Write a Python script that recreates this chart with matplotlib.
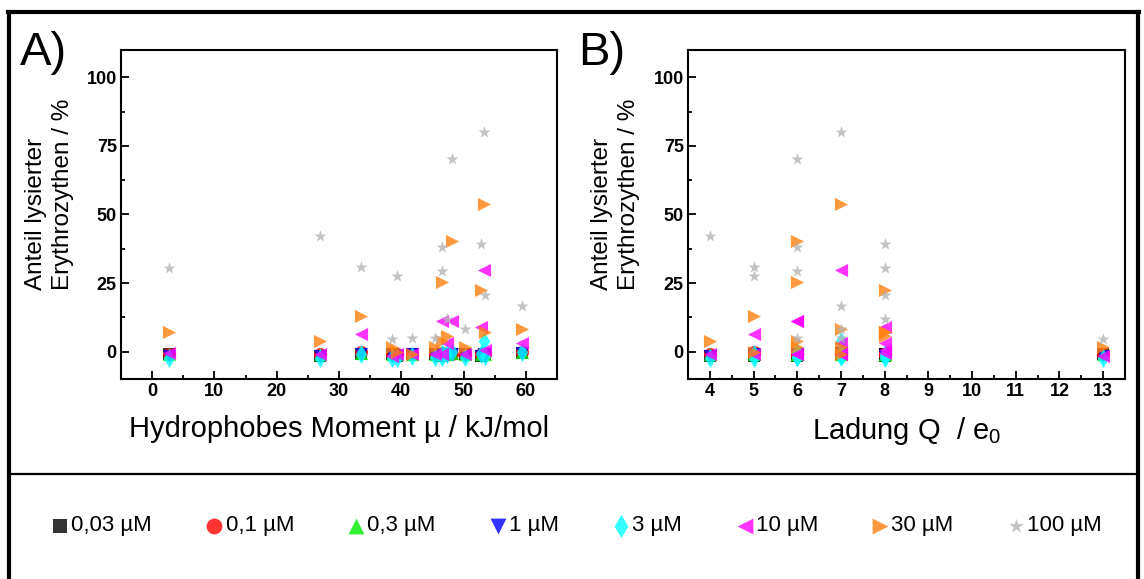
import matplotlib
matplotlib.use("Agg")
import matplotlib.pyplot as plt
from matplotlib.lines import Line2D
from matplotlib.ticker import MultipleLocator

plt.rcParams['font.family'] = ['Liberation Sans', 'DejaVu Sans']
plt.rcParams['mathtext.fontset'] = 'custom'
plt.rcParams['mathtext.rm'] = 'Liberation Sans'
plt.rcParams['mathtext.it'] = 'Liberation Sans'

# ---- data: one entry per peptide ----
hydrophobic_moment = [2.7, 26.9, 33.5, 38.5, 39.3, 41.7, 45.4, 46.6, 46.6, 47.4, 48.2, 50.2, 52.8, 53.2, 53.5, 59.4]
charge_q = [8, 4, 5, 13, 5, 7, 6, 6, 6, 8, 6, 7, 8, 7, 8, 7]

lysis_0_03 = [-1, -1.5, -1, -1, -1.5, -1, -1, -1, -1.5, -1, -1, -1, -1.5, -1, -1, -0.5]
lysis_0_1 = [-1, -1, 0, -1, -1, -1, -1, -0.5, -1, -1, -1, -1, -1, -0.5, -1, 0]
lysis_0_3 = [-1, -1, -0.5, -1, -1, -1, -1, -1, -1, -1, -0.5, -1, -1, 0, -1, 0]
lysis_1 = [-1.5, -1.5, -1, -1.5, -1.5, -1, -1.5, -1.5, -1, -1.5, -1, -1.5, -1.5, -1, -1.5, -0.5]
lysis_3 = [-2.5, -2.5, -1, -2.5, -2.5, -1.5, -2, -2, -0.5, -1, 0, -2, -1, 3.8, -1.5, 0]
lysis_10 = [-0.5, -1, 6.3, -1.5, -1, -1, -1, 11, -1, 3.3, 11.2, -1, 9, 29.8, 0.5, 3.3]
lysis_30 = [7, 4, 13, 1.5, 0, -1, 1.5, 25.2, 3.8, 5.8, 40.4, 1.5, 22.5, 53.7, 7, 8.2]
lysis_100 = [30.5, 42, 31, 4.5, 27.6, 5, 5, 38.3, 29.4, 12, 70.4, 8.2, 39.3, 80, 20.7, 16.5]

conc_labels = ['0,03 µM', '0,1 µM', '0,3 µM', '1 µM', '3 µM', '10 µM', '30 µM', '100 µM']
series = [lysis_0_03, lysis_0_1, lysis_0_3, lysis_1, lysis_3, lysis_10, lysis_30, lysis_100]
markers = ['s', 'o', '^', 'v', 'd', '<', '>', '*']
colors = ['#000000', '#ff0000', '#00ee00', '#0000ff', '#00ffff', '#ff00ff', '#ff8010', '#b4b4b4']
sizes = [75, 90, 90, 90, 95, 90, 90, 85]

W, H = 1144, 579
fig = plt.figure(figsize=(W / 100, H / 100), dpi=100)
fig.patch.set_facecolor('white')

def fx(px):
    return px / W

def fy(py):
    return 1 - py / H

axA = fig.add_axes([fx(121), fy(379), fx(557) - fx(121), fy(50) - fy(379)])
axB = fig.add_axes([fx(688), fy(379), fx(1125) - fx(688), fy(50) - fy(379)])

handles = []
for ax, xs in ((axA, hydrophobic_moment), (axB, charge_q)):
    for vals, m, c, s, lab in zip(series, markers, colors, sizes, conc_labels):
        h = ax.scatter(xs, vals, marker=m, s=s, color=c, alpha=0.8,
                       linewidths=0, label=lab, zorder=3)
        if ax is axA:
            handles.append(h)
    ax.set_ylim(-10, 110)
    ax.yaxis.set_major_locator(MultipleLocator(25))
    ax.yaxis.set_minor_locator(MultipleLocator(12.5))
    ax.set_yticks([0, 25, 50, 75, 100])
    ax.tick_params(which='both', direction='in', top=False, right=False,
                   width=1.3, labelsize=13, pad=3)
    ax.tick_params(which='major', length=6)
    ax.tick_params(which='minor', length=3)
    for sp in ax.spines.values():
        sp.set_linewidth(1.5)
    ax.text(-0.165, 0.56, 'Anteil lysierter\nErythrozythen / %', rotation=90,
            ha='center', va='center', multialignment='left',
            transform=ax.transAxes, fontsize=17.5, linespacing=1.3)

axA.set_xlim(-5, 65)
axA.xaxis.set_major_locator(MultipleLocator(10))
axA.xaxis.set_minor_locator(MultipleLocator(5))
axB.set_xlim(3.5, 13.5)
axB.xaxis.set_major_locator(MultipleLocator(1))
axB.xaxis.set_minor_locator(MultipleLocator(0.5))
for ax in (axA, axB):
    for lbl in ax.get_xticklabels() + ax.get_yticklabels():
        lbl.set_fontweight('bold')

axA.set_xlabel('Hydrophobes Moment µ / kJ/mol', fontsize=21, labelpad=11)
axB.set_xlabel('Ladung Q  / e$_0$', fontsize=21, labelpad=11)

fig.text(fx(20), fy(65), 'A)', fontsize=34, va='baseline', ha='left')
fig.text(fx(578), fy(65), 'B)', fontsize=34, va='baseline', ha='left')

# frame and divider
lw_frame = 3.0
fig.add_artist(Line2D([fx(9), fx(9)], [0, fy(12)], color='black', lw=lw_frame))
fig.add_artist(Line2D([fx(1138), fx(1138)], [0, fy(12)], color='black', lw=lw_frame))
fig.add_artist(Line2D([fx(8), fx(1139)], [fy(12), fy(12)], color='black', lw=lw_frame))
fig.add_artist(Line2D([fx(9), fx(1138)], [fy(474), fy(474)], color='black', lw=1.6))

leg = fig.legend(handles=handles, loc='center', bbox_to_anchor=(fx(576), fy(526)),
                 ncol=8, frameon=False, fontsize=16, handletextpad=0.05,
                 columnspacing=2.35, handlelength=0.9, markerscale=1.2)

fig.savefig('out.png', dpi=100, facecolor='white')
